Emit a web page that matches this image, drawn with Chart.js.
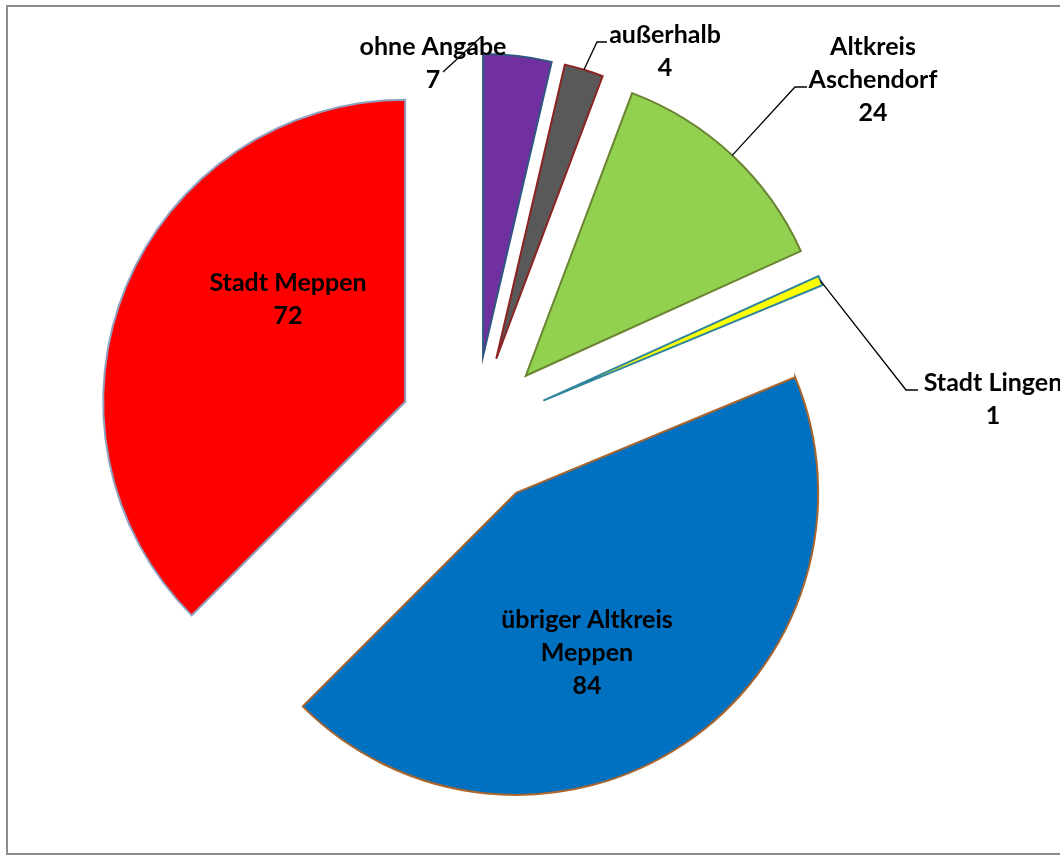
<!DOCTYPE html>
<html lang="de">
<head>
<meta charset="utf-8">
<title>Herkunft</title>
<script src="https://cdn.jsdelivr.net/npm/chart.js@4.4.1/dist/chart.umd.min.js"></script>
<style>
  html, body { margin: 0; padding: 0; background: #fff; }
  #wrap { position: relative; width: 1060px; height: 855px; overflow: hidden; }
  #frame {
    position: absolute; left: 6px; top: 5px; width: 1100px; height: 850px;
    border: 2px solid #8c8c8c; box-sizing: border-box; pointer-events: none;
  }
  canvas { position: absolute; left: 0; top: 0; }
</style>
</head>
<body>
<div id="wrap">
  <canvas id="originChart" width="1060" height="855"></canvas>
  <div id="frame"></div>
</div>
<script>
const categories = ["ohne Angabe", "außerhalb", "Altkreis Aschendorf", "Stadt Lingen", "übriger Altkreis Meppen", "Stadt Meppen"];
const counts = [7, 4, 24, 1, 84, 72];
const labelLines = [["ohne Angabe"], ["außerhalb"], ["Altkreis", "Aschendorf"], ["Stadt Lingen"], ["übriger Altkreis", "Meppen"], ["Stadt Meppen"]];

const fills = ["#7030a0", "#595959", "#92d050", "#ffff00", "#0070c0", "#ff0000"];
const strokes = ["#2f5580", "#8b2323", "#6a8431", "#31859c", "#a8652e", "#8e9fbf"];

// every slice is pulled out by the same distance from the pie centre
const EXPLODE = 75;

// label placement: text centre x, first line y, optional leader path
const labelLayout = [
  { x: 433, y: 47, leader: [[481, 37], [443, 72]] },
  { x: 665, y: 35, leader: ["slice", [597, 42], [607, 42]] },
  { x: 873, y: 47, leader: ["slice", [795, 87], [807, 87]] },
  { x: 993, y: 383, leader: ["slice", [906, 390], [918, 390]] },
  { x: 587, y: 620 },
  { x: 288, y: 283 }
];

const LINE_H = 33;

// draw the arcs ourselves so each one is shifted along its bisector
// without Chart.js also growing the radius (which its `offset` does)
const explodedSlices = {
  id: "explodedSlices",
  beforeDatasetDraw(chart, args) {
    const ctx = chart.ctx;
    args.meta.data.forEach((arc) => {
      const mid = (arc.startAngle + arc.endAngle) / 2;
      ctx.save();
      ctx.translate(Math.cos(mid) * EXPLODE, Math.sin(mid) * EXPLODE);
      arc.draw(ctx, chart.chartArea);
      ctx.restore();
    });
    return false;
  }
};

const sliceLabels = {
  id: "sliceLabels",
  afterDatasetsDraw(chart) {
    const ctx = chart.ctx;
    const arcs = chart.getDatasetMeta(0).data;
    ctx.save();
    ctx.strokeStyle = "#000";
    ctx.lineWidth = 1.3;
    labelLayout.forEach((layout, i) => {
      if (!layout.leader) return;
      const arc = arcs[i];
      const mid = (arc.startAngle + arc.endAngle) / 2;
      const reach = arc.outerRadius + EXPLODE;
      ctx.beginPath();
      layout.leader.forEach((pt, k) => {
        const p = pt === "slice"
          ? [arc.x + Math.cos(mid) * reach, arc.y + Math.sin(mid) * reach]
          : pt;
        if (k === 0) ctx.moveTo(p[0], p[1]); else ctx.lineTo(p[0], p[1]);
      });
      ctx.stroke();
    });

    ctx.fillStyle = "#000";
    ctx.font = "bold 25px Lato";
    ctx.textAlign = "center";
    ctx.textBaseline = "middle";
    labelLayout.forEach((layout, i) => {
      const lines = labelLines[i].concat(String(counts[i]));
      lines.forEach((line, k) => ctx.fillText(line, layout.x, layout.y + k * LINE_H));
    });
    ctx.restore();
  }
};

new Chart(document.getElementById("originChart"), {
  type: "pie",
  data: {
    labels: categories,
    datasets: [{
      data: counts,
      backgroundColor: fills,
      borderColor: strokes,
      borderWidth: 2,
      borderJoinStyle: "miter",
      offset: 0,
      hoverOffset: 0
    }]
  },
  options: {
    responsive: false,
    animation: false,
    radius: 302,
    layout: { padding: { left: 0, right: 111, top: 6, bottom: 0 } },
    plugins: {
      legend: { display: false },
      tooltip: { enabled: false }
    },
    events: []
  },
  plugins: [explodedSlices, sliceLabels]
});
</script>
</body>
</html>
